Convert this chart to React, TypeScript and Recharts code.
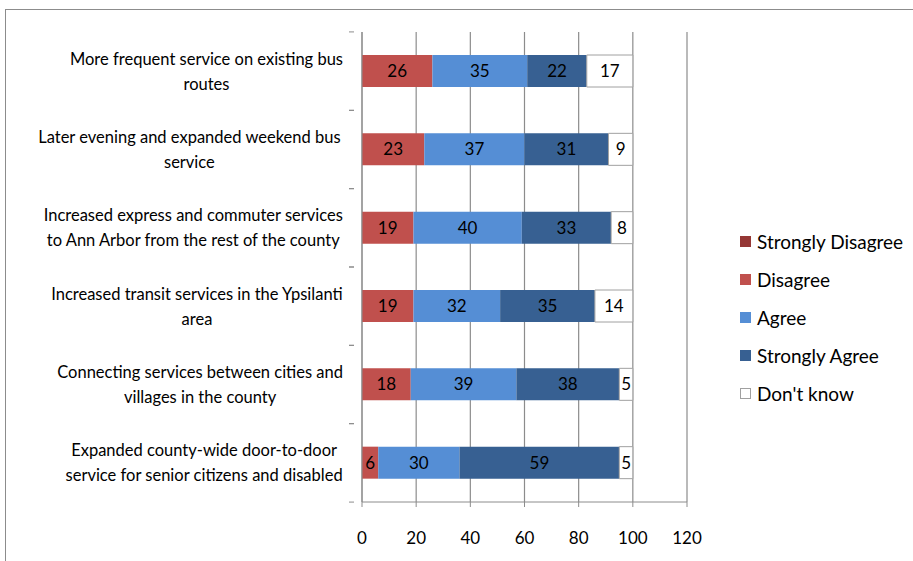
import React from "react";
import { BarChart, Bar, XAxis, YAxis, CartesianGrid, LabelList, Legend } from "recharts";

const categories = [
  "More frequent service on existing bus\nroutes",
  "Later evening and  expanded weekend bus\nservice",
  "Increased express and commuter services\nto Ann Arbor from the rest of the county",
  "Increased transit services in the Ypsilanti\narea",
  "Connecting services between cities and\nvillages in the county",
  "Expanded county-wide door-to-door\nservice for senior citizens and disabled",
];
const stronglyDisagree = [0, 0, 0, 0, 0, 0];
const disagree = [26, 23, 19, 19, 18, 6];
const agree = [35, 37, 40, 32, 39, 30];
const stronglyAgree = [22, 31, 33, 35, 38, 59];
const dontKnow = [17, 9, 8, 14, 5, 5];
const xTicks = [0, 20, 40, 60, 80, 100, 120];

const series = [
  { key: "sd", name: "Strongly Disagree", color: "#953735", values: stronglyDisagree },
  { key: "d", name: "Disagree", color: "#c0504d", values: disagree },
  { key: "a", name: "Agree", color: "#558ed5", values: agree },
  { key: "sa", name: "Strongly Agree", color: "#376092", values: stronglyAgree },
  { key: "dk", name: "Don't know", color: "#ffffff", values: dontKnow },
];

const data = categories.map((c, i) => {
  const row: Record<string, string | number> = { name: c };
  series.forEach((s) => (row[s.key] = s.values[i]));
  return row;
});

const FONT = "Lato, 'Liberation Sans', sans-serif";
const GRID = "#8c8c8c";
const TICK_FS = 16.5;

let ctx: CanvasRenderingContext2D | null = null;
const measure = (t: string) => {
  if (!ctx) ctx = document.createElement("canvas").getContext("2d");
  if (!ctx) return t.length * 7.5;
  ctx.font = `${TICK_FS}px Lato`;
  return ctx.measureText(t).width;
};

// wrapped category label: lines centred on each other, block right-aligned
const CategoryTick = (props: any) => {
  const { x, y, payload } = props;
  const lines: string[] = String(payload.value).split("\n");
  const w = Math.max(...lines.map(measure));
  const cx = x - 11 - w / 2;
  const half = 39.25;
  return (
    <g>
      <line x1={x - 5} x2={x} y1={y - half} y2={y - half} stroke={GRID} />
      <line x1={x - 5} x2={x} y1={y + half} y2={y + half} stroke={GRID} />
      {lines.map((l, i) => (
        <text
          key={i}
          x={cx}
          y={y + (i - (lines.length - 1) / 2) * 25}
          textAnchor="middle"
          dominantBaseline="central"
          fontSize={TICK_FS}
          fontFamily={FONT}
          fill="#000"
        >
          {l}
        </text>
      ))}
    </g>
  );
};

const LegendBox = () => (
  <div style={{ fontFamily: FONT, fontSize: 19, color: "#000" }}>
    {series.map((s) => (
      <div key={s.key} style={{ display: "flex", alignItems: "center", height: 37.8 }}>
        <span
          style={{
            width: 11,
            height: 11,
            background: s.color,
            border: s.key === "dk" ? "1px solid #a0a0a0" : "none",
            boxSizing: "border-box",
            marginRight: 6,
          }}
        />
        {s.name}
      </div>
    ))}
  </div>
);

export default function App() {
  return (
    <div style={{ position: "absolute", left: 0, top: 0, width: 913, height: 561, overflow: "hidden", background: "#fff" }}>
      <div
        style={{
          position: "absolute",
          left: 5,
          top: 9,
          width: 950,
          height: 600,
          border: "1px solid #8c8c8c",
        }}
      />
      <BarChart
        width={913}
        height={561}
        data={data}
        layout="vertical"
        barSize={32}
        margin={{ top: 32, right: 51, bottom: 0, left: 0 }}
        style={{ position: "absolute", left: 0, top: 0 }}
      >
        <CartesianGrid horizontal={false} stroke={GRID} strokeWidth={1.2} />
        <XAxis
          type="number"
          domain={[0, 120]}
          ticks={xTicks}
          height={59}
          interval={0}
          stroke={GRID}
          tickSize={5}
          tickMargin={25}
          tick={{ fill: "#000", fontSize: 17, fontFamily: FONT }}
        />
        <YAxis
          type="category"
          dataKey="name"
          width={362}
          stroke={GRID}
          tickLine={false}
          interval={0}
          tick={<CategoryTick />}
        />
        <Legend
          layout="vertical"
          align="right"
          verticalAlign="top"
          content={<LegendBox />}
          wrapperStyle={{ position: "absolute", left: 740, top: 223, width: 175 }}
        />
        {series.map((s) => (
          <Bar
            key={s.key}
            dataKey={s.key}
            name={s.name}
            stackId="x"
            fill={s.color}
            stroke={s.key === "dk" ? "#a0a0a0" : "none"}
            isAnimationActive={false}
          >
            {s.key !== "sd" && (
              <LabelList dataKey={s.key} position="center" fill="#000" fontSize={17} fontFamily={FONT} />
            )}
          </Bar>
        ))}
      </BarChart>
    </div>
  );
}
